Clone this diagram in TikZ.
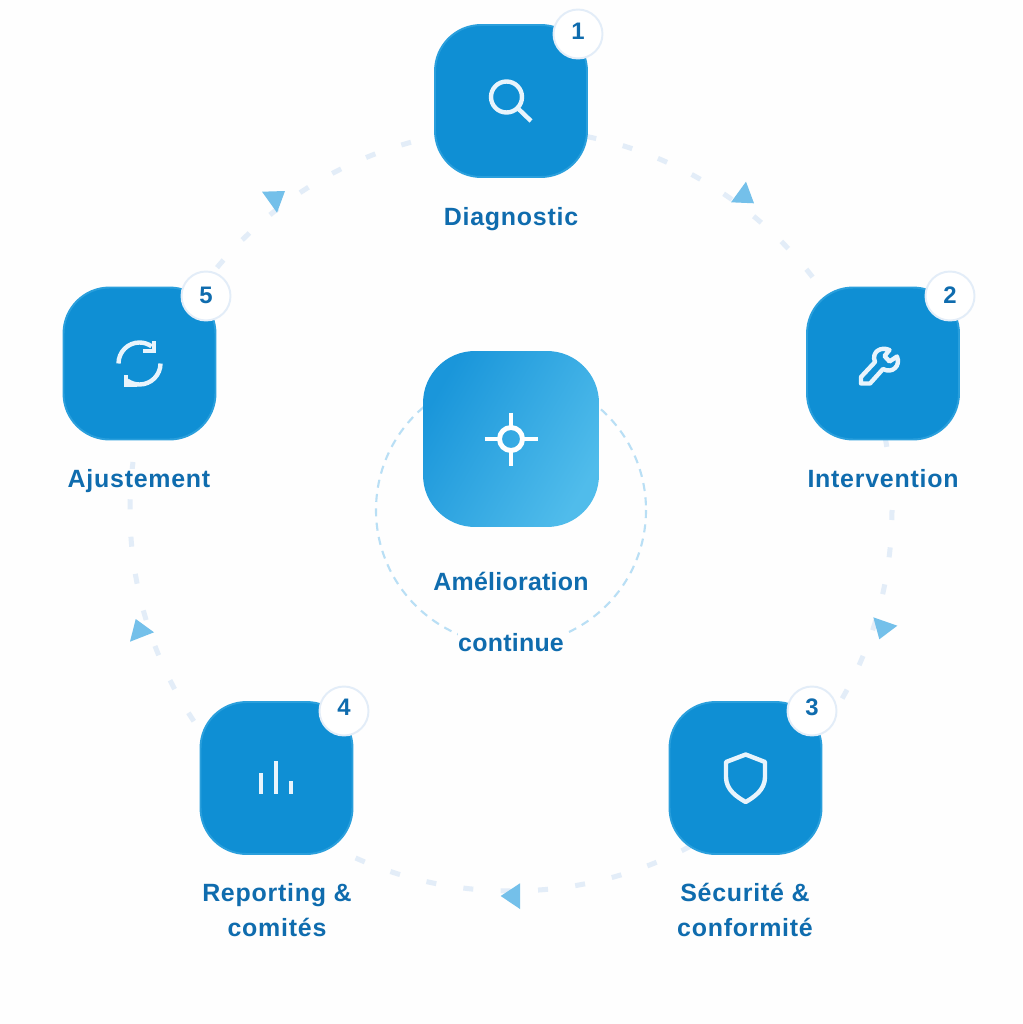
\documentclass[tikz,border=0pt]{standalone}
\usepackage{fontspec}
\usepackage{xcolor}
\usetikzlibrary{positioning}
\setmainfont{Liberation Sans}
\newfontfamily\stepfont[LetterSpace=3]{Liberation Sans}
\newfontfamily\corefont[LetterSpace=1]{Liberation Sans}

\definecolor{pagecol}{HTML}{FEFEFE}
\definecolor{boxcol}{HTML}{0F8FD4}
\definecolor{boxedge}{HTML}{2A9FDC}
\definecolor{coredark}{HTML}{1A96DA}
\definecolor{corelight}{HTML}{50BCEB}
\definecolor{textcol}{HTML}{0F6CAE}
\definecolor{ringcol}{HTML}{E3EDF8}
\definecolor{innercol}{HTML}{B9DFF5}
\definecolor{tipcol}{HTML}{74C0EA}
\definecolor{iconcol}{HTML}{E8F4FC}

\tikzset{
	stepbox/.style={draw=boxedge,line width=1.1pt,fill=boxcol,rounded corners=0.92cm,minimum size=3.04cm,inner sep=0pt},
	corebox/.style={rounded corners=1.04cm,minimum size=3.52cm,inner sep=0pt,top color=coredark,bottom color=corelight,shading angle=60},
	badge/.style={circle,draw=ringcol,line width=1.1pt,fill=white,minimum size=0.98cm,inner sep=0pt},
	badgenum/.style={text=textcol,font=\fontsize{13.6pt}{16pt}\selectfont\bfseries,inner sep=0pt},
	steplabel/.style={anchor=base,text=textcol,fill=pagecol,font=\stepfont\fontsize{14.2pt}{17pt}\selectfont\bfseries,inner sep=0pt},
	corelabel/.style={anchor=base,text=textcol,fill=pagecol,font=\corefont\fontsize{14.2pt}{17pt}\selectfont\bfseries,inner sep=0pt},
	icon/.style={draw=iconcol,line width=2.5pt,fill=none},
	iconbar/.style={draw=iconcol,line width=2.8pt},
	target/.style={draw=white,line width=2.8pt},
	tip/.style={fill=tipcol,draw=none}
}

\begin{document}
\begin{tikzpicture}[x=0.02cm,y=-0.02cm]
	% page, same size as the reference
	\fill[pagecol] (0,0) rectangle (1022,1024);
	\useasboundingbox (0,0) rectangle (1022,1024);

	% outer dashed ring and inner dashed circle
	\draw[ringcol,line width=2.85pt,dash pattern=on 5.69pt off 15.615pt] (511,510) circle[radius=381];
	\draw[innercol,line width=1.2pt,dash pattern=on 4.6pt off 3.6pt] (511,510) circle[radius=135];

	% arrow heads along the ring
	\fill[tip] (746,181.7) -- (731,202.3) -- (754,203.3) -- cycle;
	\fill[tip] (873.3,617.3) -- (897.3,625.7) -- (879.3,639.3) -- cycle;
	\fill[tip] (500.7,896) -- (520,883.3) -- (520,909) -- cycle;
	\fill[tip] (135.7,619) -- (154,632.3) -- (130,641.7) -- cycle;
	\fill[tip] (262,191.7) -- (285,191) -- (277,212.7) -- cycle;

	% step boxes
	\node[stepbox] (diag) at (511,101) {};
	\node[stepbox] (inter) at (883,363.5) {};
	\node[stepbox] (secu) at (745.5,778) {};
	\node[stepbox] (repo) at (276.5,778) {};
	\node[stepbox] (ajust) at (139.5,363.5) {};
	\node[corebox] (core) at (511,439) {};

	% number badges
	\node[badge] (b1) at (578,34) {};
	\node[badge] (b2) at (950,296) {};
	\node[badge] (b3) at (812,711) {};
	\node[badge] (b4) at (344,711) {};
	\node[badge] (b5) at (206,296) {};
	\node[badgenum] at (578,31) {1};
	\node[badgenum] at (950,295) {2};
	\node[badgenum] at (812,707) {3};
	\node[badgenum] at (344,707) {4};
	\node[badgenum] at (206,295) {5};

	% labels
	\node[steplabel] at (511,225) {Diagnostic};
	\node[steplabel] at (883,487) {Intervention};
	\node[steplabel] at (745,901.5) {Sécurité \&};
	\node[steplabel] at (745,936) {conformité};
	\node[steplabel] at (277,901.5) {Reporting \&};
	\node[steplabel] at (277,936) {comités};
	\node[steplabel] at (139,487) {Ajustement};
	\node[corelabel] at (511,590) {Amélioration};
	\node[corelabel] at (511,651) {continue};

	% search icon
	\draw[icon] (506.5,97) circle[radius=15.5];
	\draw[icon] (517.5,108) -- (531,121);

	% wrench icon
	\draw[icon,line join=round] (861,377) -- (875,362) .. controls (871,352) and (881,346) .. (889.5,350) -- (884.5,356) -- (889.5,361.5) -- (897,356.5) .. controls (901,366) and (892,374) .. (883,369) -- (870,383.5) -- (861,383.5) -- cycle;

	% shield icon
	\draw[icon,line join=round] (745.7,754.5) -- (765,762) -- (765,777) .. controls (765,790) and (754,797) .. (745.7,802) .. controls (737,797) and (726,790) .. (726,777) -- (726,762) -- cycle;

	% bars icon
	\draw[iconbar] (261,773) -- (261,793.5);
	\draw[iconbar] (276,761) -- (276,793.5);
	\draw[iconbar] (291,781) -- (291,793.5);

	% refresh icon
	\draw[icon] (118.5,363.5) arc[start angle=180,end angle=305,radius=21];
	\draw[icon] (143,351) -- (154.3,351) -- (154.3,341);
	\draw[icon] (160.5,363.5) arc[start angle=0,end angle=125,radius=21];
	\draw[icon] (137,385) -- (125.7,385) -- (125.7,375);

	% target icon
	\draw[target] (511,439) circle[radius=11.5];
	\draw[target] (511,412.5) -- (511,427);
	\draw[target] (511,451) -- (511,465.5);
	\draw[target] (484.5,439) -- (499,439);
	\draw[target] (523,439) -- (537.5,439);
\end{tikzpicture}
\end{document}
